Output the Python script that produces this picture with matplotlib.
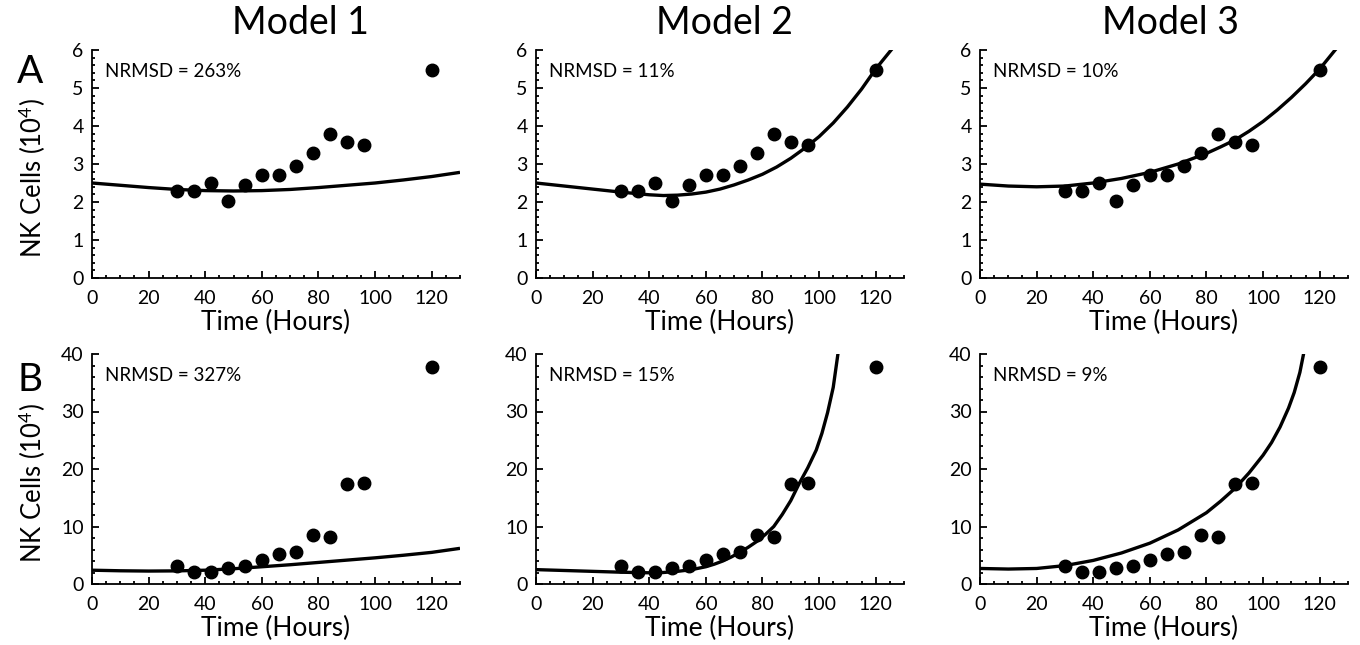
import matplotlib.pyplot as plt
from matplotlib.ticker import MultipleLocator

plt.rcParams['font.family'] = ['Lato', 'DejaVu Sans']
plt.rcParams['mathtext.fontset'] = 'custom'
plt.rcParams['mathtext.rm'] = 'Lato'
plt.rcParams['mathtext.it'] = 'Lato:italic'

# measured data (hours, NK cells x 10^4)
time_h = [30, 36, 42, 48, 54, 60, 66, 72, 78, 84, 90, 96, 120]
cells_a = [2.30, 2.30, 2.51, 2.03, 2.46, 2.71, 2.71, 2.95, 3.28, 3.78, 3.57, 3.51, 5.47]
cells_b = [3.2, 2.1, 2.1, 2.7, 3.2, 4.2, 5.2, 5.5, 8.5, 8.2, 17.4, 17.6, 37.7]

# model curves
m1a_t = [0, 10, 20, 30, 40, 50, 60, 70, 80, 90, 100, 110, 120, 130]
m1a_y = [2.50, 2.44, 2.38, 2.33, 2.30, 2.29, 2.30, 2.33, 2.38, 2.44, 2.50, 2.58, 2.67, 2.78]
m2a_t = [0, 10, 20, 30, 40, 45, 50, 55, 60, 65, 70, 75, 80, 85, 90, 95, 100, 105, 110, 115, 120, 126]
m2a_y = [2.50, 2.42, 2.34, 2.26, 2.19, 2.17, 2.18, 2.21, 2.26, 2.34, 2.45, 2.58, 2.73, 2.92, 3.15, 3.42,
         3.72, 4.08, 4.50, 4.97, 5.50, 6.05]
m3a_t = [0, 10, 20, 30, 40, 50, 60, 70, 80, 85, 90, 95, 100, 105, 110, 115, 120, 126]
m3a_y = [2.47, 2.42, 2.40, 2.42, 2.50, 2.62, 2.78, 3.00, 3.28, 3.45, 3.63, 3.86, 4.12, 4.42, 4.75, 5.11,
         5.50, 6.05]

m1b_t = [0, 10, 20, 30, 40, 50, 60, 70, 80, 90, 100, 110, 120, 130]
m1b_y = [2.4, 2.3, 2.25, 2.28, 2.4, 2.65, 3.0, 3.35, 3.75, 4.15, 4.55, 5.0, 5.5, 6.2]
m2b_t = [0, 10, 20, 30, 40, 45, 50, 55, 60, 63, 66, 69, 72, 75, 78, 81, 84, 87, 90, 93, 96, 99,
         101, 103, 105, 106.8]
m2b_y = [2.5, 2.35, 2.2, 2.05, 1.95, 2.0, 2.2, 2.5, 3.0, 3.45, 4.0, 4.7, 5.5, 6.4, 7.4, 8.6, 10.0,
         12.1, 14.5, 17.5, 20.2, 23.3, 26.2, 29.8, 34.2, 40.5]
m3b_t = [0, 10, 20, 30, 40, 50, 60, 70, 80, 85, 90, 95, 100, 103, 106, 109, 111, 113, 114.5]
m3b_y = [2.7, 2.6, 2.7, 3.2, 4.1, 5.4, 7.1, 9.4, 12.4, 14.4, 16.6, 19.3, 22.4, 24.6, 27.3, 30.6,
         33.3, 36.8, 40.5]

models = ['Model 1', 'Model 2', 'Model 3']
nrmsd_a = ['263%', '11%', '10%']
nrmsd_b = ['327%', '15%', '9%']

curves_a = [(m1a_t, m1a_y), (m2a_t, m2a_y), (m3a_t, m3a_y)]
curves_b = [(m1b_t, m1b_y), (m2b_t, m2b_y), (m3b_t, m3b_y)]

fig = plt.figure(figsize=(13.6, 6.45), dpi=100)

lefts = [92 / 1360, 536 / 1360, 980 / 1360]
width = 368 / 1360
rows = [(1 - 278 / 645, 228 / 645), (1 - 584 / 645, 230 / 645)]


def style(ax, ymax, ymaj, ymin):
    for s in ['top', 'right']:
        ax.spines[s].set_visible(False)
    for s in ['left', 'bottom']:
        ax.spines[s].set_linewidth(1.3)
    ax.set_xlim(0, 130)
    ax.set_ylim(0, ymax)
    ax.xaxis.set_major_locator(MultipleLocator(20))
    ax.xaxis.set_minor_locator(MultipleLocator(5))
    ax.yaxis.set_major_locator(MultipleLocator(ymaj))
    ax.yaxis.set_minor_locator(MultipleLocator(ymin))
    ax.tick_params(which='major', direction='in', length=5, width=1.3, labelsize=14)
    ax.tick_params(which='minor', direction='in', length=2.5, width=1.3)
    ax.tick_params(axis='x', pad=9)
    ax.tick_params(axis='y', pad=6)
    ax.set_xlabel('Time (Hours)', fontsize=19, labelpad=2)


for row, (bottom, height) in enumerate(rows):
    for col in range(3):
        ax = fig.add_axes([lefts[col], bottom, width, height])
        if row == 0:
            t, y = curves_a[col]
            ax.plot(t, y, color='black', lw=2.4, solid_capstyle='butt', solid_joinstyle='round')
            ax.plot(time_h, cells_a, 'o', color='black', ms=9, clip_on=False)
            style(ax, 6, 1, 0.2)
            label = nrmsd_a[col]
        else:
            t, y = curves_b[col]
            ax.plot(t, y, color='black', lw=2.4, solid_capstyle='butt', solid_joinstyle='round')
            ax.plot(time_h, cells_b, 'o', color='black', ms=9, clip_on=False)
            style(ax, 40, 10, 2)
            label = nrmsd_b[col]
        ax.text(0.035, 0.905, 'NRMSD = ' + label, transform=ax.transAxes,
                fontsize=13.5, va='center', ha='left')
        if col == 0:
            ax.set_ylabel('NK Cells (10$^4$)', fontsize=18.5)
            ax.yaxis.set_label_coords(-0.12, 0.44)

for x, name in zip([300, 725, 1170], models):
    fig.text(x / 1360, 1 - 23 / 645, name, fontsize=27, ha='center', va='center')

fig.text(30 / 1360, 1 - 72 / 645, 'A', fontsize=28, ha='center', va='center')
fig.text(30 / 1360, 1 - 380 / 645, 'B', fontsize=28, ha='center', va='center')

fig.savefig('out.png', dpi=100)
